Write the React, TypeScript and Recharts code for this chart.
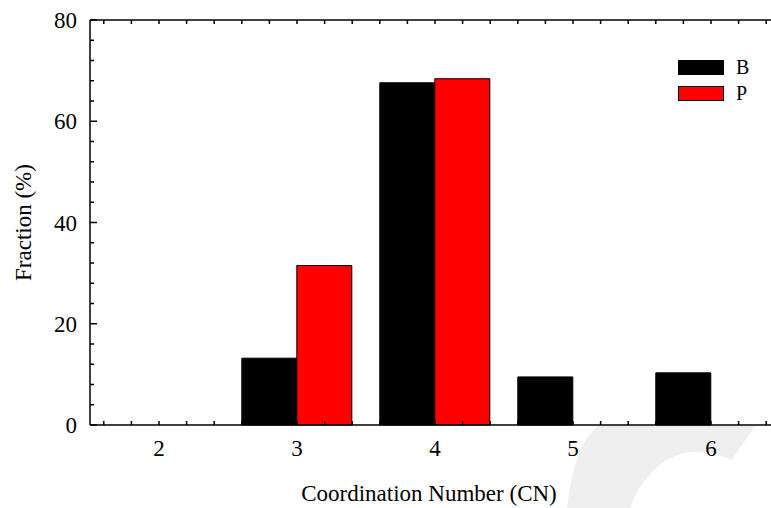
import React from "react";
import { BarChart, Bar, XAxis, YAxis, Legend } from "recharts";

const categories = ["2", "3", "4", "5", "6"];
const cnValues = [2, 3, 4, 5, 6];
const fractionB = [null, 13.2, 67.6, 9.5, 10.3];
const fractionP = [null, 31.5, 68.4, null, null];
const yTicks = [0, 4, 8, 12, 16, 20, 24, 28, 32, 36, 40, 44, 48, 52, 56, 60, 64, 68, 72, 76, 80];
const xMinorTicks = [
  1.6, 1.8, 2.0, 2.2, 2.4, 2.6, 2.8, 3.0, 3.2, 3.4, 3.6, 3.8, 4.0, 4.2, 4.4, 4.6, 4.8,
  5.0, 5.2, 5.4, 5.6, 5.8, 6.0, 6.2, 6.4,
];

const data = categories.map((label, i) => ({
  label,
  cn: cnValues[i],
  B: fractionB[i],
  P: fractionP[i],
}));

const FONT = '"Liberation Serif", "Times New Roman", serif';

const YTick = (props: any) => {
  const { x, y, payload } = props;
  const major = payload.value % 20 === 0;
  return (
    <g>
      <line x1={x} x2={x + (major ? 7 : 4)} y1={y} y2={y} stroke="#000" strokeWidth={1.5} />
      {major && (
        <text x={x - 13} y={y} dy="0.35em" textAnchor="end" fontSize={23} fontFamily={FONT} fill="#000">
          {payload.value}
        </text>
      )}
    </g>
  );
};

const MinorTick = (props: any) => {
  const { x, y, dir } = props;
  return <line x1={x} x2={x} y1={y} y2={y + dir * 4} stroke="#000" strokeWidth={1.5} />;
};

const LegendBox = (props: any) => {
  const { payload } = props;
  return (
    <div style={{ display: "flex", flexDirection: "column", gap: 11 }}>
      {(payload || []).map((entry: any) => (
        <div key={entry.value} style={{ display: "flex", alignItems: "center", height: 15 }}>
          <span
            style={{
              width: 46,
              height: 15,
              boxSizing: "border-box",
              border: "1px solid #000",
              background: entry.color,
              display: "inline-block",
            }}
          />
          <span style={{ marginLeft: 12, fontSize: 20, fontFamily: FONT, color: "#000", lineHeight: "15px" }}>
            {entry.value}
          </span>
        </div>
      ))}
    </div>
  );
};

export default function App() {
  return (
    <div
      style={{
        position: "absolute",
        left: 0,
        top: 0,
        width: 771,
        height: 508,
        overflow: "hidden",
        background: "#fff",
        fontFamily: FONT,
      }}
    >
      <svg width={771} height={508} style={{ position: "absolute", left: 0, top: 0 }}>
        <path
          d="M 567 508 Q 574 445 598 426 L 755 426 L 732 460 Q 688 440 656 468 Q 636 488 630 508 Z"
          fill="#efefef"
        />
      </svg>
      <div style={{ position: "absolute", left: 0, top: 0 }}>
        <BarChart
          width={790}
          height={508}
          data={data}
          margin={{ top: 19, right: 10, left: 0, bottom: 0 }}
          barCategoryGap="10%"
          barGap={0}
        >
          <XAxis
            dataKey="label"
            height={83}
            tickLine={false}
            tickSize={0}
            tickMargin={15}
            axisLine={{ stroke: "#000", strokeWidth: 1.5 }}
            tick={{ fontSize: 23, fontFamily: FONT, fill: "#000" }}
            label={{
              value: "Coordination Number (CN)",
              position: "insideBottom",
              offset: 7,
              dx: -6,
              fontSize: 23,
              fontFamily: FONT,
              fill: "#000",
            }}
          />
          <XAxis
            xAxisId="minorBottom"
            dataKey="cn"
            type="number"
            domain={[1.5, 6.5]}
            allowDataOverflow
            ticks={xMinorTicks}
            interval={0}
            mirror
            height={1}
            tickSize={0}
            tickMargin={0}
            tickLine={false}
            axisLine={false}
            tick={<MinorTick dir={-1} />}
          />
          <XAxis
            xAxisId="top"
            orientation="top"
            dataKey="cn"
            type="number"
            domain={[1.5, 6.5]}
            allowDataOverflow
            ticks={xMinorTicks}
            interval={0}
            height={1}
            tickSize={0}
            tickMargin={0}
            tickLine={false}
            axisLine={{ stroke: "#000", strokeWidth: 1.5 }}
            tick={<MinorTick dir={1} />}
          />
          <YAxis
            width={90}
            domain={[0, 80]}
            ticks={yTicks}
            interval={0}
            tickSize={0}
            tickMargin={0}
            tickLine={false}
            axisLine={{ stroke: "#000", strokeWidth: 1.5 }}
            tick={<YTick />}
            label={{
              value: "Fraction (%)",
              angle: -90,
              position: "insideLeft",
              offset: 23,
              textAnchor: "middle",
              fontSize: 23,
              fontFamily: FONT,
              fill: "#000",
            }}
          />
          <Legend
            layout="vertical"
            align="center"
            verticalAlign="middle"
            content={<LegendBox />}
            wrapperStyle={{ left: 678, top: 60, width: "auto" }}
          />
          <Bar dataKey="B" name="B" fill="#000" stroke="#000" strokeWidth={1} isAnimationActive={false} />
          <Bar dataKey="P" name="P" fill="#ff0000" stroke="#000" strokeWidth={1} isAnimationActive={false} />
        </BarChart>
      </div>
    </div>
  );
}
